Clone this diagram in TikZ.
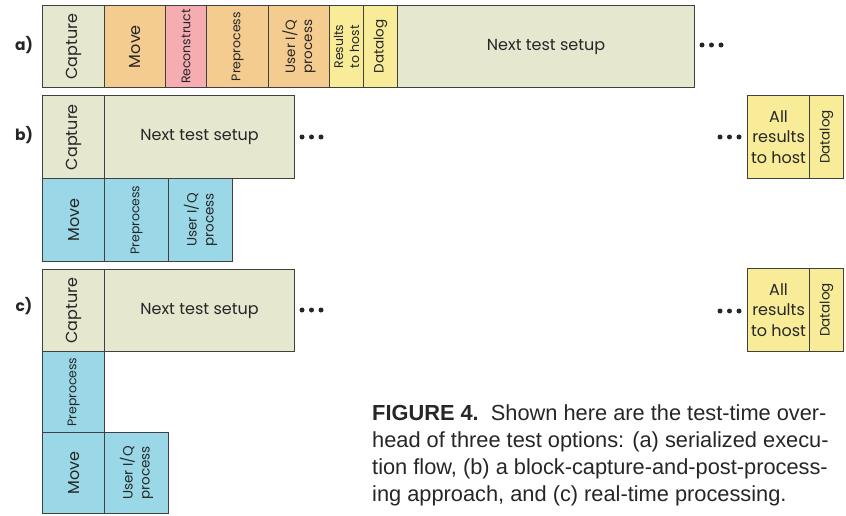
\documentclass[tikz,border=0pt]{standalone}
\usepackage{fontspec}
\setmainfont{Poppins}
\newfontfamily\capfont{Liberation Sans}
\definecolor{beige}{HTML}{E6E7CF}
\definecolor{orng}{HTML}{F4CC8F}
\definecolor{pinkc}{HTML}{F6ADB2}
\definecolor{yell}{HTML}{F8EC98}
\definecolor{bluec}{HTML}{9AD8E7}
\definecolor{edge}{HTML}{404040}
\definecolor{txt}{HTML}{262626}
\begin{document}
\begin{tikzpicture}[x=1pt,y=-1pt,
  blk/.style={draw=edge, line width=1.1pt, inner sep=0pt, anchor=north west},
  lbl/.style={rotate=90, align=center, text=txt, inner sep=0pt},
  hlbl/.style={align=center, text=txt, inner sep=0pt},
  big/.style={font=\fontsize{16}{19}\selectfont},
  allf/.style={font=\fontsize{16}{20.5}\selectfont},
  mid/.style={font=\fontsize{13.5}{17}\selectfont},
  sml/.style={font=\fontsize{12.5}{16}\selectfont},
  rowlbl/.style={font=\bfseries\fontsize{15.5}{18}\selectfont, text=txt},
  dot/.style={fill=txt}]
\useasboundingbox (0,0) rectangle (846,516);

% ---------- row a ----------
\node[rowlbl] (la) at (24,45) {a)};
\node[blk, fill=beige, minimum width=62pt, minimum height=82pt] (capA) at (42,5) {};
\node[lbl, big] (tcapA) at (capA.center) {Capture};
\node[blk, fill=orng, minimum width=61pt, minimum height=82pt] (moveA) at (104,5) {};
\node[lbl, big] (tmoveA) at (moveA.center) {Move};
\node[blk, fill=pinkc, minimum width=41pt, minimum height=82pt] (recA) at (165,5) {};
\node[lbl, sml] (trecA) at (recA.center) {Reconstruct};
\node[blk, fill=orng, minimum width=62pt, minimum height=82pt] (preA) at (206,5) {};
\node[lbl, sml] (tpreA) at (preA.center) {Preprocess};
\node[blk, fill=orng, minimum width=61pt, minimum height=82pt] (uiqA) at (268,5) {};
\node[lbl, mid] (tuiqA) at (uiqA.center) {User I/Q\\process};
\node[blk, fill=yell, minimum width=34pt, minimum height=82pt] (resA) at (329,5) {};
\node[lbl, sml] (tresA) at (resA.center) {Results\\to host};
\node[blk, fill=yell, minimum width=34pt, minimum height=82pt] (dlA) at (363,5) {};
\node[lbl, mid] (tdlA) at (dlA.center) {Datalog};
\node[blk, fill=beige, minimum width=297pt, minimum height=82pt] (nextA) at (397,5) {};
\node[hlbl, big] (tnextA) at (nextA.center) {Next test setup};
\foreach \x in {702,711.5,721} \fill[dot] (\x,45) circle (2.5pt);

% ---------- row b ----------
\node[rowlbl] (lb) at (24,135) {b)};
\node[blk, fill=beige, minimum width=62pt, minimum height=83pt] (capB) at (42,95) {};
\node[lbl, big] (tcapB) at (capB.center) {Capture};
\node[blk, fill=beige, minimum width=190pt, minimum height=83pt] (nextB) at (104,95) {};
\node[hlbl, big] (tnextB) at (nextB.center) {Next test setup};
\node[blk, fill=bluec, minimum width=62pt, minimum height=83pt] (moveB) at (42,178) {};
\node[lbl, big] (tmoveB) at (moveB.center) {Move};
\node[blk, fill=bluec, minimum width=64pt, minimum height=83pt] (preB) at (104,178) {};
\node[lbl, sml] (tpreB) at (preB.center) {Preprocess};
\node[blk, fill=bluec, minimum width=64pt, minimum height=83pt] (uiqB) at (168,178) {};
\node[lbl, mid] (tuiqB) at (uiqB.center) {User I/Q\\process};
\foreach \x in {302,311.5,321} \fill[dot] (\x,137) circle (2.5pt);
\foreach \x in {720,729.5,739} \fill[dot] (\x,137) circle (2.5pt);
\node[blk, fill=yell, minimum width=62pt, minimum height=83pt] (allB) at (747,95) {};
\node[hlbl, allf] (tallB) at (allB.center) {All\\results\\to host};
\node[blk, fill=yell, minimum width=34pt, minimum height=83pt] (dlB) at (809,95) {};
\node[lbl, mid] (tdlB) at (dlB.center) {Datalog};

% ---------- row c ----------
\node[rowlbl] (lc) at (24,306) {c)};
\node[blk, fill=beige, minimum width=62pt, minimum height=82pt] (capC) at (42,269) {};
\node[lbl, big] (tcapC) at (capC.center) {Capture};
\node[blk, fill=beige, minimum width=190pt, minimum height=82pt] (nextC) at (104,269) {};
\node[hlbl, big] (tnextC) at (nextC.center) {Next test setup};
\node[blk, fill=bluec, minimum width=62pt, minimum height=81pt] (preC) at (42,351) {};
\node[lbl, sml] (tpreC) at (preC.center) {Preprocess};
\node[blk, fill=bluec, minimum width=62pt, minimum height=81pt] (moveC) at (42,432) {};
\node[lbl, big] (tmoveC) at (moveC.center) {Move};
\node[blk, fill=bluec, minimum width=64pt, minimum height=81pt] (uiqC) at (104,432) {};
\node[lbl, mid] (tuiqC) at (uiqC.center) {User I/Q\\process};
\foreach \x in {302,311.5,321} \fill[dot] (\x,310) circle (2.5pt);
\foreach \x in {720,729.5,739} \fill[dot] (\x,311) circle (2.5pt);
\node[blk, fill=yell, minimum width=62pt, minimum height=83pt] (allC) at (747,268) {};
\node[hlbl, allf] (tallC) at (allC.center) {All\\results\\to host};
\node[blk, fill=yell, minimum width=34pt, minimum height=83pt] (dlC) at (809,268) {};
\node[lbl, mid] (tdlC) at (dlC.center) {Datalog};

% ---------- caption ----------
\node[anchor=north west, align=left, inner sep=0pt, text=txt,
      font=\capfont\fontsize{21.8}{27}\selectfont] (caption) at (372,404)
  {\textbf{FIGURE 4.}\ \ Shown here are the test-time over-\\
   head of three test options: (a) serialized execu-\\
   tion flow, (b) a block-capture-and-post-process-\\
   ing approach, and (c) real-time processing.};
\end{tikzpicture}
\end{document}
